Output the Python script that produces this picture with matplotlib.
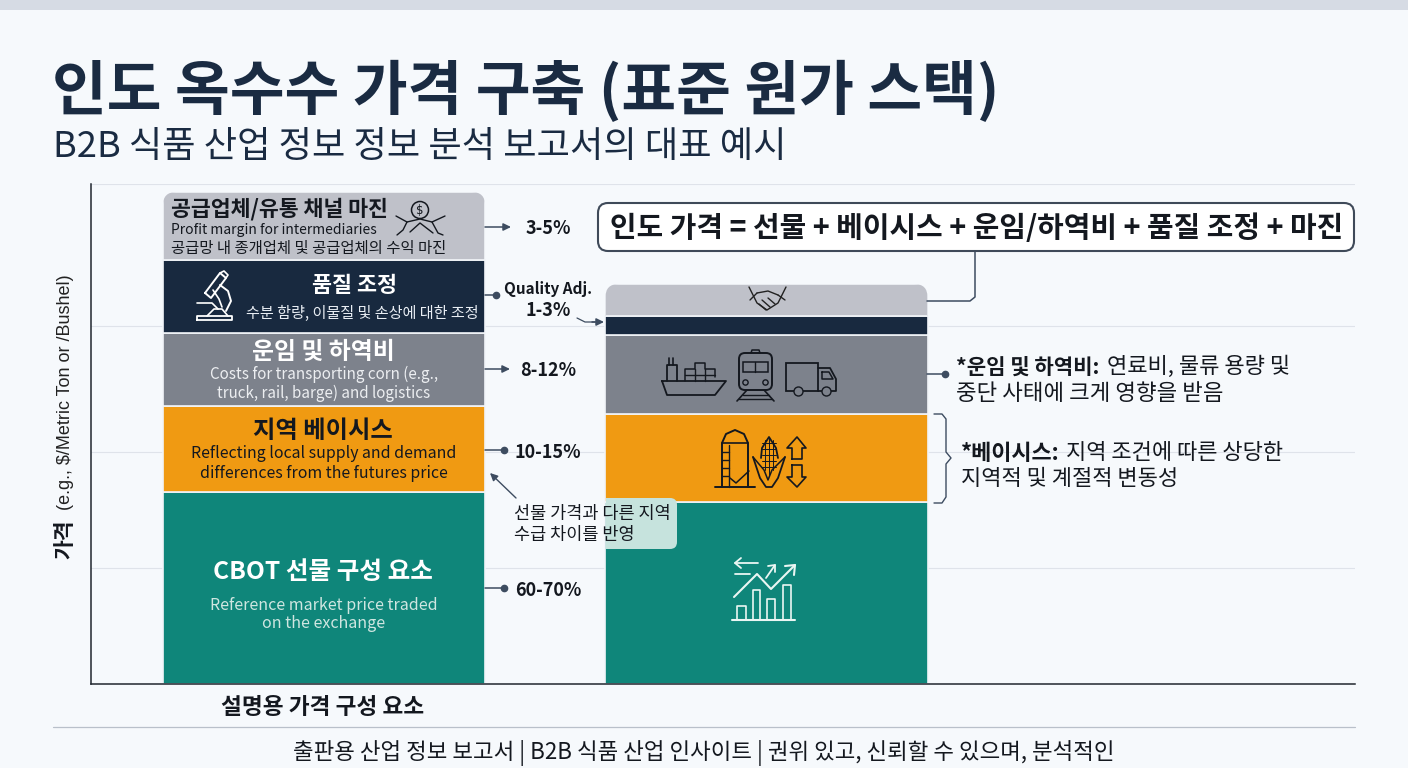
import numpy as np
import matplotlib
matplotlib.use("Agg")
import matplotlib.pyplot as plt
from matplotlib.patches import FancyBboxPatch, Rectangle, Circle

# ---- data (heights of the stack segments, bottom to top, in index units) ----
segments = ["CBOT futures", "Basis", "Freight", "Quality", "Margin"]
illustrative_values = [38.4, 17.2, 14.6, 14.6, 13.6]
model_values = [36.4, 17.6, 15.8, 3.8, 6.4]
segment_colors = ["#0f867a", "#f09a12", "#7d828c", "#18293f", "#bfc1c9"]
grid_levels = [23.2, 46.4, 71.6, 100]
range_labels = ["60-70%", "10-15%", "8-12%", "1-3%", "3-5%"]

KR = ["Noto Sans CJK KR", "DejaVu Sans"]
NAVY = "#1a2b42"
INK = "#14181f"
LINE = "#3d4c60"
W, H = 1408, 768

fig = plt.figure(figsize=(14.08, 7.68), dpi=100, facecolor="#f6f9fc")

# chart axes
ax = fig.add_axes([91 / W, 1 - 684 / H, (1355 - 91) / W, (684 - 184) / H])
ax.set_facecolor("none")
ax.set_xlim(-0.5266, 2.33)
ax.set_ylim(0, 100)
ax.set_xticks([])
ax.set_yticks(grid_levels)
ax.tick_params(length=0, labelleft=False)
ax.grid(axis="y", color="#dfe3ea", lw=0.8, zorder=0)
ax.set_axisbelow(True)
for s in ["top", "right"]:
    ax.spines[s].set_visible(False)
for s in ["left", "bottom"]:
    ax.spines[s].set_color("#20262e")
    ax.spines[s].set_linewidth(1.1)

for xpos, vals in [(0, illustrative_values), (1, model_values)]:
    bottom = 0
    for i, v in enumerate(vals):
        b = ax.bar(xpos, v, width=0.728, bottom=bottom, color=segment_colors[i],
                   edgecolor="#f2f5f9", linewidth=1.2, zorder=2)[0]
        if i == len(vals) - 1:
            x0 = xpos - 0.364
            clip = FancyBboxPatch((x0, bottom - 3), 0.728, v + 3,
                                  boxstyle="round,pad=0,rounding_size=0.03",
                                  mutation_aspect=100 / 500 * 442.5,
                                  transform=ax.transData, fc="none", ec="none")
            ax.add_patch(clip)
            b.set_clip_path(clip)
        bottom += v

# overlay in pixel coordinates for text and icons
ov = fig.add_axes([0, 0, 1, 1], facecolor="none")
ov.set_xlim(0, W)
ov.set_ylim(H, 0)
ov.axis("off")
ov.add_patch(Rectangle((0, 0), W, 10, fc="#d6dbe4", ec="none"))


def T(x, y, s, size, color=INK, weight="normal", ha="center", fam=KR, **kw):
    dy = 0 if kw.get("rotation") else 2
    return ov.text(x, y + dy, s, fontsize=size, color=color, fontweight=weight, ha=ha,
                   va="center", family=fam, zorder=6, **kw)


def L(pts, color=INK, lw=1.3, z=6, **kw):
    p = np.array(pts, float)
    ov.plot(p[:, 0], p[:, 1], color=color, lw=lw, zorder=z, solid_capstyle="round",
            solid_joinstyle="round", **kw)


def arrow(x0, y0, x1, y1, color=LINE, lw=1.1):
    ov.annotate("", xy=(x1, y1), xytext=(x0, y0), zorder=6,
                arrowprops=dict(arrowstyle="-|>,head_width=0.22,head_length=0.45",
                                color=color, lw=lw, shrinkA=0, shrinkB=0))


def dotline(x0, x1, y):
    L([(x0, y), (x1, y)], LINE, 1.1)
    ov.plot([x1], [y], "o", ms=4.5, color=LINE, zorder=6)


# titles
T(52, 90, "인도 옥수수 가격 구축 (표준 원가 스택)", 42.9, NAVY, "bold", "left")
T(53, 145, "B2B 식품 산업 정보 정보 분석 보고서의 대표 예시", 26.1, NAVY, "normal", "left")

# axis labels
T(65, 539, "가격", 15.5, INK, "bold", rotation=90)
T(65, 392, "(e.g., $/Metric Ton or /Bushel)", 13, "#222", rotation=90,
  fam=["Liberation Sans", "DejaVu Sans"])
T(323, 705, "설명용 가격 구성 요소", 16.3, INK, "bold")

# footer
L([(53, 727), (1355, 727)], "#b9c0ca", 0.9)
T(704, 751, "출판용 산업 정보 보고서 | B2B 식품 산업 인사이트 | 권위 있고, 신뢰할 수 있으며, 분석적인", 16.1, INK)

# left stack text
T(171, 207, "공급업체/유통 채널 마진", 15.6, INK, "bold", "left")
T(171, 228, "Profit margin for intermediaries", 10.05, INK, ha="left")
T(171, 246, "공급망 내 종개업체 및 공급업체의 수익 마진", 11.1, INK, ha="left")
T(354, 283, "품질 조정", 15.7, "white", "bold")
T(362, 311, "수분 함량, 이물질 및 손상에 대한 조정", 10.9, "#e8edf3")
T(323, 350, "운임 및 하역비", 17.2, "white", "bold")
T(324, 372, "Costs for transporting corn (e.g.,", 10.95, "#eceef1")
T(324, 391, "truck, rail, barge) and logistics", 10.95, "#eceef1")
T(323, 429, "지역 베이시스", 17.5, INK, "bold")
T(324, 451, "Reflecting local supply and demand", 11.45, INK)
T(324, 471, "differences from the futures price", 11.45, INK)
T(323, 570, "CBOT 선물 구성 요소", 17.7, "white", "bold")
T(324, 603, "Reference market price traded", 11.5, "#cfe6e1")
T(324, 622, "on the exchange", 11.5, "#cfe6e1")

# ranges and their leaders
arrow(485, 227, 511, 227)
T(548, 227, range_labels[4], 13, INK, "bold")
dotline(485, 496, 295)
T(548, 287, "Quality Adj.", 11, INK, "bold")
T(548, 308, range_labels[3], 13, INK, "bold")
L([(577, 318), (585, 322), (595, 322)], LINE, 0.9)
arrow(592, 322, 604, 322)
arrow(485, 369, 510, 369)
T(548, 369, range_labels[2], 13, INK, "bold")
dotline(485, 504, 450)
T(548, 450, range_labels[1], 13, INK, "bold")
dotline(485, 504, 588)
T(548, 588, range_labels[0], 13, INK, "bold")

# callout over the teal stack
box = FancyBboxPatch((560, 498), 117, 51, boxstyle="round,pad=0,rounding_size=7",
                     fc="#c6e3dd", ec="none", zorder=4)
ov.add_patch(box)
box.set_clip_path(Rectangle((606, 490), 90, 70, transform=ov.transData))
arrow(516, 498, 490, 473, LINE, 1.0)
T(514, 512, "선물 가격과 다른 지역", 12.6, INK, ha="left")
T(514, 533, "수급 차이를 반영", 12.6, INK, ha="left")

# equation box
ov.add_patch(FancyBboxPatch((598, 203), 756, 48, boxstyle="round,pad=0,rounding_size=10",
                            fc="white", ec="#3f4a59", lw=1.5, zorder=5))
T(977, 226, "인도 가격 = 선물 + 베이시스 + 운임/하역비 + 품질 조정 + 마진", 20.8, INK, "bold")
L([(927, 301), (970, 301), (975, 297), (975, 252)], LINE, 1.1)

# right annotations
dotline(927, 945, 374)
T(956, 365, "*운임 및 하역비:", 15.2, INK, "bold", "left")
T(1107, 365, "연료비, 물류 용량 및", 15.9, INK, ha="left")
T(956, 391, "중단 사태에 크게 영향을 받음", 16.1, INK, ha="left")
L([(934, 414), (942, 414), (946, 419), (946, 452), (951, 458), (946, 464),
   (946, 497), (942, 503), (934, 503)], LINE, 1.0)
T(961, 451, "*베이시스:", 15.8, INK, "bold", "left")
T(1066, 451, "지역 조건에 따른 상당한", 15.85, INK, ha="left")
T(961, 477, "지역적 및 계절적 변동성", 15.85, INK, ha="left")

# ---- icons ----
# money + hands
ov.add_patch(Circle((420, 210), 8.5, fc="none", ec=INK, lw=1.1, zorder=6))
T(420, 208, "$", 8.5, INK, fam=["DejaVu Sans"])
L([(396, 216), (407, 222), (403, 230), (397, 235)], INK, 1.0)
L([(445, 216), (432, 222), (438, 233), (443, 235)], INK, 1.0)
L([(410, 232), (420, 223), (433, 233)], INK, 1.0)
L([(407, 222), (420, 219), (432, 222)], INK, 1.0)
# microscope
mc = "white"
L([(197, 320), (232, 320), (232, 316), (197, 316), (197, 320)], mc, 1.3)
L([(207, 316), (214, 309), (222, 309), (228, 316)], mc, 1.2)
L([(197, 303), (212, 303), (218, 309)], mc, 1.2)
L([(205, 293), (220, 273), (226, 278), (211, 298), (205, 293)], mc, 1.4)
L([(220, 273), (224, 271), (228, 275), (226, 278)], mc, 1.2)
L([(220, 285), (228, 291), (231, 301), (226, 311)], mc, 1.4)
L([(213, 290), (219, 299), (222, 307)], mc, 1.2)
# handshake
hc = "#222"
L([(749, 287), (757, 303), (767, 310), (778, 303), (786, 287)], hc, 1.0)
L([(757, 293), (768, 291), (778, 295)], hc, 1.0)
L([(757, 293), (750, 300)], hc, 1.0)
L([(778, 295), (785, 300)], hc, 1.0)
L([(762, 300), (770, 307)], hc, 1.0)
L([(768, 298), (775, 304)], hc, 1.0)
L([(759, 304), (766, 310)], hc, 1.0)
# ship
L([(662, 381), (667, 395), (715, 395), (726, 381), (662, 381)], INK, 1.3)
L([(667, 381), (667, 365), (677, 365), (677, 381)], INK, 1.3)
L([(669, 365), (669, 358)], INK, 1.2)
L([(673, 365), (673, 358)], INK, 1.2)
L([(685, 381), (685, 369), (695, 369), (695, 363), (705, 363), (705, 369), (715, 369), (715, 377)], INK, 1.1)
L([(685, 375), (715, 375)], INK, 1.0)
L([(695, 369), (695, 381)], INK, 1.0)
L([(705, 369), (705, 381)], INK, 1.0)
# train
ov.add_patch(FancyBboxPatch((739, 353), 33, 37, boxstyle="round,pad=0,rounding_size=6",
                            fc="none", ec=INK, lw=1.4, zorder=6))
ov.add_patch(Rectangle((743, 362), 25, 10, fc="none", ec=INK, lw=1.1, zorder=6))
L([(755, 362), (755, 372)], INK, 1.0)
L([(751, 353), (752, 350), (759, 350), (760, 353)], INK, 1.1)
ov.plot([745, 765], [382, 382], "o", ms=3.8, mfc="none", mec=INK, zorder=6)
L([(747, 390), (737, 401)], INK, 1.2)
L([(764, 390), (774, 401)], INK, 1.2)
L([(743, 395), (769, 395)], INK, 1.0)
L([(739, 399), (772, 399)], INK, 1.0)
# truck
ov.add_patch(Rectangle((786, 363), 32, 28, fc="none", ec=INK, lw=1.3, zorder=6))
L([(818, 368), (830, 368), (836, 379), (836, 391), (818, 391)], INK, 1.3)
L([(822, 372), (829, 372), (833, 379), (822, 379), (822, 372)], INK, 1.1)
ov.plot([798, 826], [391, 391], "o", ms=6.5, mfc="#7d828c", mec=INK, zorder=7)
# silo
L([(715, 487), (755, 487)], INK, 1.4)
L([(722, 487), (722, 443), (726, 434), (735, 430), (744, 434), (748, 443), (748, 487)], INK, 1.4)
L([(722, 443), (748, 443)], INK, 1.2)
L([(729, 445), (729, 487)], INK, 1.0)
for yy in [452, 460, 468, 476]:
    L([(722, yy), (729, yy)], INK, 1.0)
L([(730, 478), (736, 483), (749, 471)], INK, 1.1)
# corn
L([(761, 458), (762, 448), (769, 437), (776, 448), (778, 458)], INK, 1.3)
L([(753, 457), (760, 478), (766, 487), (772, 487), (778, 478), (785, 457)], INK, 1.3)
L([(753, 457), (764, 470), (768, 480), (772, 470), (785, 457)], INK, 1.1)
for yy in [443, 449, 455, 461, 467]:
    L([(762, yy), (776, yy)], INK, 0.7)
L([(765, 440), (765, 470)], INK, 0.7)
L([(769, 438), (769, 475)], INK, 0.7)
L([(773, 440), (773, 470)], INK, 0.7)
# up / down arrows
L([(792, 459), (792, 448), (787, 448), (797, 437), (806, 448), (802, 448), (802, 459), (792, 459)], INK, 1.2)
L([(792, 465), (792, 477), (787, 477), (797, 487), (806, 477), (802, 477), (802, 465), (792, 465)], INK, 1.2)
# chart icon
ic = "#eaf6f3"
L([(732, 620), (795, 620)], ic, 1.5)
for x0, top, wd in [(737, 606, 9), (753, 590, 7), (767, 599, 8), (783, 585, 8)]:
    L([(x0, 620), (x0, top), (x0 + wd, top), (x0 + wd, 620)], ic, 1.2)
L([(734, 597), (757, 574), (771, 589), (795, 565)], ic, 1.5)
L([(785, 566), (795, 565), (794, 575)], ic, 1.5)
L([(766, 578), (775, 565)], ic, 1.3)
L([(768, 566), (775, 565), (775, 572)], ic, 1.3)
L([(735, 563), (758, 563)], ic, 1.3)
L([(741, 558), (735, 563), (741, 568)], ic, 1.3)
L([(735, 574), (750, 574)], ic, 1.3)

fig.savefig("out.png", dpi=100, facecolor=fig.get_facecolor())
